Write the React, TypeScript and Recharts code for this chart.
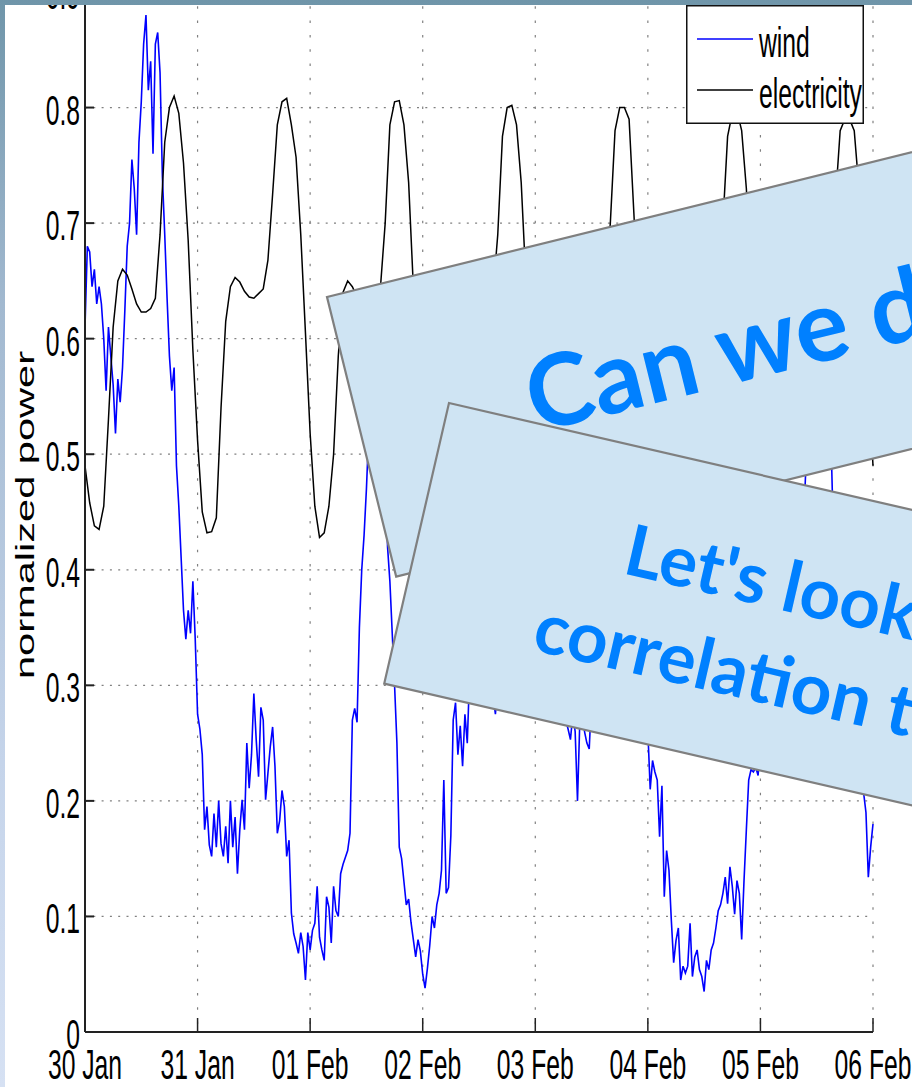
import React from "react"
import { LineChart, Line, XAxis, YAxis, CartesianGrid, Legend, Label } from "recharts"

// hours since 30 Jan 00:00, one tick per day
const dayTicks = [0, 24, 48, 72, 96, 120, 144, 168]
const dayLabels = ["30 Jan", "31 Jan", "01 Feb", "02 Feb", "03 Feb", "04 Feb", "05 Feb", "06 Feb"]
const powerTicks = [0, 0.1, 0.2, 0.3, 0.4, 0.5, 0.6, 0.7, 0.8, 0.9]
const seriesOrder = ["wind", "electricity"]

// wind, one value per half hour
const wind = [
  0.61, 0.68, 0.675, 0.645, 0.66, 0.63, 0.645, 0.63, 0.6, 0.555, 0.61, 0.585,
  0.56, 0.518, 0.565, 0.545, 0.575, 0.625, 0.68, 0.7, 0.755, 0.73, 0.69, 0.77,
  0.805, 0.855, 0.88, 0.815, 0.84, 0.76, 0.855, 0.865, 0.83, 0.74, 0.69, 0.635,
  0.585, 0.555, 0.575, 0.49, 0.455, 0.41, 0.365, 0.34, 0.365, 0.345, 0.39, 0.34,
  0.275, 0.262, 0.24, 0.175, 0.195, 0.162, 0.152, 0.189, 0.16, 0.2, 0.163, 0.152,
  0.178, 0.146, 0.2, 0.16, 0.186, 0.137, 0.175, 0.201, 0.175, 0.25, 0.211, 0.24,
  0.293, 0.253, 0.221, 0.281, 0.27, 0.201, 0.224, 0.247, 0.264, 0.23, 0.172, 0.183,
  0.209, 0.195, 0.152, 0.166, 0.103, 0.085, 0.077, 0.068, 0.086, 0.074, 0.045, 0.086,
  0.071, 0.088, 0.094, 0.126, 0.082, 0.071, 0.062, 0.117, 0.108, 0.077, 0.126, 0.105,
  0.1, 0.137, 0.145, 0.151, 0.157, 0.172, 0.27, 0.28, 0.268, 0.35, 0.4, 0.43,
  0.47, 0.52, 0.5, 0.55, 0.58, 0.56, 0.6, 0.57, 0.52, 0.42, 0.39, 0.345,
  0.3, 0.25, 0.16, 0.15, 0.13, 0.11, 0.115, 0.095, 0.08, 0.065, 0.08, 0.07,
  0.05, 0.038, 0.055, 0.075, 0.1, 0.09, 0.11, 0.12, 0.14, 0.218, 0.12, 0.125,
  0.17, 0.27, 0.285, 0.24, 0.265, 0.23, 0.275, 0.25, 0.31, 0.36, 0.42, 0.4,
  0.46, 0.44, 0.4, 0.36, 0.33, 0.3, 0.29, 0.275, 0.3, 0.38, 0.42, 0.47,
  0.5, 0.53, 0.49, 0.55, 0.52, 0.48, 0.5, 0.45, 0.42, 0.46, 0.41, 0.38,
  0.4, 0.36, 0.34, 0.37, 0.33, 0.31, 0.34, 0.3, 0.29, 0.32, 0.3, 0.28,
  0.3, 0.27, 0.262, 0.253, 0.275, 0.26, 0.2, 0.27, 0.285, 0.26, 0.25, 0.245,
  0.29, 0.33, 0.36, 0.34, 0.39, 0.42, 0.4, 0.44, 0.41, 0.38, 0.4, 0.36,
  0.35, 0.38, 0.34, 0.31, 0.33, 0.3, 0.32, 0.29, 0.28, 0.3, 0.27, 0.26,
  0.26, 0.21, 0.235, 0.225, 0.218, 0.169, 0.213, 0.117, 0.157, 0.14, 0.097, 0.06,
  0.079, 0.09, 0.045, 0.057, 0.051, 0.057, 0.094, 0.048, 0.065, 0.071, 0.054, 0.048,
  0.035, 0.062, 0.054, 0.071, 0.077, 0.09, 0.105, 0.11, 0.12, 0.134, 0.111, 0.143,
  0.126, 0.102, 0.131, 0.12, 0.08, 0.131, 0.175, 0.218, 0.227, 0.225, 0.229, 0.222,
  0.25, 0.27, 0.3, 0.28, 0.32, 0.35, 0.33, 0.37, 0.4, 0.38, 0.42, 0.41,
  0.43, 0.45, 0.44, 0.46, 0.45, 0.47, 0.46, 0.47, 0.52, 0.55, 0.53, 0.57,
  0.55, 0.58, 0.54, 0.56, 0.53, 0.51, 0.52, 0.44, 0.42, 0.4, 0.37, 0.39,
  0.35, 0.33, 0.3, 0.31, 0.28, 0.26, 0.25, 0.23, 0.207, 0.19, 0.134, 0.16,
  0.18,
]

// electricity, hourly
const electricity = [
  0.49, 0.458, 0.438, 0.435, 0.455, 0.53, 0.61, 0.65, 0.66, 0.655, 0.643, 0.63,
  0.623, 0.623, 0.626, 0.635, 0.69, 0.77, 0.8, 0.81, 0.795, 0.752, 0.685, 0.59,
  0.512, 0.45, 0.432, 0.433, 0.445, 0.54, 0.615, 0.645, 0.653, 0.649, 0.641, 0.636,
  0.635, 0.639, 0.643, 0.668, 0.725, 0.785, 0.805, 0.808, 0.785, 0.757, 0.69, 0.605,
  0.518, 0.455, 0.428, 0.432, 0.455, 0.5, 0.585, 0.64, 0.65, 0.645, 0.636, 0.63,
  0.628, 0.628, 0.632, 0.645, 0.7, 0.785, 0.805, 0.806, 0.785, 0.735, 0.645, 0.56,
  0.485, 0.44, 0.43, 0.435, 0.47, 0.55, 0.615, 0.645, 0.652, 0.646, 0.637, 0.63,
  0.626, 0.628, 0.632, 0.64, 0.69, 0.775, 0.8, 0.802, 0.785, 0.735, 0.65, 0.56,
  0.488, 0.442, 0.431, 0.437, 0.475, 0.556, 0.618, 0.644, 0.65, 0.644, 0.634, 0.627,
  0.624, 0.625, 0.63, 0.64, 0.7, 0.78, 0.8, 0.8, 0.79, 0.71, 0.63, 0.55,
  0.48, 0.44, 0.43, 0.434, 0.47, 0.55, 0.615, 0.645, 0.65, 0.643, 0.634, 0.627,
  0.623, 0.624, 0.63, 0.64, 0.7, 0.775, 0.795, 0.797, 0.78, 0.73, 0.65, 0.56,
  0.485, 0.44, 0.428, 0.432, 0.465, 0.545, 0.61, 0.64, 0.645, 0.638, 0.63, 0.623,
  0.62, 0.621, 0.627, 0.637, 0.72, 0.78, 0.79, 0.79, 0.78, 0.73, 0.65, 0.565,
  0.49,
]

const windData = wind.map((v, i) => ({ h: i / 2, wind: v }))
const elecData = electricity.map((v, i) => ({ h: i, electricity: v }))

const FONT = "'Liberation Sans', Arial, Helvetica, sans-serif"
const BOX_FONT = "Lato, 'Open Sans', sans-serif"
// the picture was squeezed sideways, so text is drawn taller than wide
const SX = 0.95
const SY = 1.65

function XTick({ x, y, payload }: any) {
  const label = dayLabels[dayTicks.indexOf(payload.value)]
  return (
    <g>
      <line x1={x} x2={x} y1={y} y2={y - 14} stroke="#222" strokeWidth={1.5} />
      <text
        transform={`translate(${x},${y + 47}) scale(${SX},${SY})`}
        textAnchor="middle"
        fontSize={26}
        fontFamily={FONT}
        fill="#000"
      >
        {label}
      </text>
    </g>
  )
}

function YTick({ x, y, payload }: any) {
  const v = payload.value as number
  return (
    <g>
      <line x1={x} x2={x + 9} y1={y} y2={y} stroke="#222" strokeWidth={2} />
      <text
        transform={`translate(${x - 5},${y + 17}) scale(${SX},${SY})`}
        textAnchor="end"
        fontSize={26}
        fontFamily={FONT}
        fill="#000"
      >
        {v === 0 ? "0" : v.toFixed(1)}
      </text>
    </g>
  )
}

function YLabel({ viewBox }: any) {
  const cx = viewBox.x + 9
  const cy = viewBox.y + viewBox.height / 2 + 3
  return (
    <text
      transform={`translate(${cx},${cy}) rotate(-90) scale(1.6,1)`}
      textAnchor="middle"
      fontSize={26}
      fontFamily={FONT}
      fill="#000"
    >
      normalized power
    </text>
  )
}

function LegendBox({ payload }: any) {
  const items = [...(payload || [])].sort(
    (a: any, b: any) => seriesOrder.indexOf(a.value) - seriesOrder.indexOf(b.value)
  )
  return (
    <svg width={178} height={119} style={{ display: "block" }}>
      <rect x={0.75} y={0.75} width={176.5} height={117.5} fill="#fff" stroke="#111" strokeWidth={1.5} />
      {items.map((it: any, i: number) => (
        <g key={it.value}>
          <line x1={11} x2={67} y1={34 + i * 51} y2={34 + i * 51} stroke={it.color} strokeWidth={1.4} />
          <text
            transform={`translate(73,${52 + i * 51}) scale(${SX},${SY})`}
            fontSize={26}
            fontFamily={FONT}
            fill="#000"
          >
            {it.value}
          </text>
        </g>
      ))}
    </svg>
  )
}

function Chart() {
  return (
    <LineChart width={912} height={1127} margin={{ top: 32, right: 39, bottom: 25, left: 25 }}>
      <CartesianGrid vertical={false} stroke="#808080" strokeDasharray="2 6.3" strokeWidth={1.2} />
      <CartesianGrid horizontal={false} stroke="#808080" strokeDasharray="2.5 11.8" strokeWidth={1.2} />
      <XAxis
        dataKey="h"
        type="number"
        domain={[0, 168]}
        ticks={dayTicks}
        interval={0}
        tickSize={0}
        tickMargin={0}
        height={30}
        tick={<XTick />}
        tickLine={false}
        axisLine={{ stroke: "#222", strokeWidth: 2 }}
      />
      <YAxis
        type="number"
        domain={[0, 0.9]}
        ticks={powerTicks}
        interval={0}
        tickSize={0}
        tickMargin={0}
        width={60}
        tick={<YTick />}
        tickLine={false}
        axisLine={{ stroke: "#222", strokeWidth: 2 }}
      >
        <Label content={(p: any) => <YLabel {...p} />} />
      </YAxis>
      <Legend
        layout="horizontal"
        verticalAlign="middle"
        align="center"
        wrapperStyle={{ position: "absolute", left: 686, top: 45, width: 178, height: 119 }}
        content={(p: any) => <LegendBox payload={p.payload} />}
      />
      <Line
        data={windData}
        dataKey="wind"
        name="wind"
        type="linear"
        stroke="#0000ff"
        strokeWidth={1.6}
        dot={false}
        isAnimationActive={false}
      />
      <Line
        data={elecData}
        dataKey="electricity"
        name="electricity"
        type="linear"
        stroke="#000"
        strokeWidth={1.5}
        dot={false}
        isAnimationActive={false}
      />
    </LineChart>
  )
}

export default function App() {
  return (
    <div
      style={{
        position: "relative",
        width: 912,
        height: 1087,
        overflow: "hidden",
        background: "linear-gradient(180deg, #6f95a9 0%, #a2b9d0 28%, #c5d4ea 70%, #d6e1f3 100%)",
      }}
    >
      <style>{"body{margin:0}"}</style>
      <div
        style={{
          position: "absolute",
          left: 5,
          top: 5,
          width: 907,
          height: 1082,
          background: "#fff",
          overflow: "hidden",
        }}
      >
        <div style={{ position: "absolute", left: -5, top: -45 }}>
          <Chart />
        </div>
      </div>
      <svg
        width={912}
        height={1087}
        style={{ position: "absolute", left: 0, top: 0, pointerEvents: "none" }}
      >
        <g transform="translate(327,297) rotate(-13.9)">
          <rect width={820} height={288} fill="#cfe4f3" stroke="#7f7f7f" strokeWidth={2.2} />
          <text x={170} y={182} fontFamily={BOX_FONT} fontWeight={700} fontSize={100} fill="#0080ff">
            Can we do
          </text>
        </g>
        <g transform="translate(449,403) rotate(13)">
          <rect width={700} height={288} fill="#cfe4f3" stroke="#7f7f7f" strokeWidth={2.2} />
          <text x={206} y={127} fontFamily={BOX_FONT} fontWeight={700} fontSize={71} fill="#0080ff">
            Let's look
          </text>
          <text x={135} y={222} fontFamily={BOX_FONT} fontWeight={700} fontSize={71} fill="#0080ff">
            correlation to
          </text>
        </g>
      </svg>
    </div>
  )
}
